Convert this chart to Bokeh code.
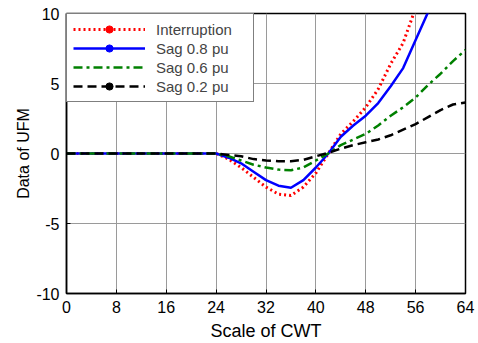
from bokeh.plotting import figure
from bokeh.models import ColumnDataSource, Legend, LegendItem, FixedTicker, Range1d
from bokeh.embed import file_html
from bokeh.resources import INLINE

x = [0, 2, 4, 6, 8, 10, 12, 14, 16, 18, 20, 22, 24, 26, 28, 30, 32, 34, 36, 38, 40,
     42, 44, 46, 48, 50, 52, 54, 56, 58, 60, 62, 64]
interruption = [0]*12 + [0, -0.4, -1.0, -1.7, -2.4, -2.9, -3.0, -2.4, -1.4,
                         0.0, 1.4, 2.3, 3.3, 4.6, 6.4, 7.9, 10.4, 12.8, 15.0, 17.0, 19.0]
sag08 = [0]*12 + [0, -0.3, -0.7, -1.3, -1.9, -2.3, -2.45, -1.9, -1.0,
                  0.0, 1.2, 2.0, 2.7, 3.6, 4.8, 6.1, 8.1, 10.1, 12.0, 14.0, 16.0]
sag06 = [0]*12 + [0, -0.2, -0.5, -0.8, -1.0, -1.15, -1.2, -1.0, -0.5,
                  0.0, 0.6, 1.0, 1.4, 2.0, 2.7, 3.3, 4.0, 4.9, 5.7, 6.6, 7.4]
sag02 = [0]*12 + [0, -0.1, -0.2, -0.4, -0.5, -0.55, -0.55, -0.45, -0.2,
                  0.05, 0.35, 0.6, 0.8, 1.0, 1.3, 1.7, 2.1, 2.6, 3.1, 3.5, 3.65]
labels = ["Interruption", "Sag 0.8 pu", "Sag 0.6 pu", "Sag 0.2 pu"]
x_ticks = [0, 8, 16, 24, 32, 40, 48, 56, 64]
y_ticks = [-10, -5, 0, 5, 10]
y_tick_labels = ["-10", "-5", "0", "5", "10"]

FONT = "Liberation Sans"

p = figure(width=478, height=343, output_backend="svg", toolbar_location=None,
           x_range=Range1d(0, 64), y_range=Range1d(-10, 10),
           min_border_left=66, min_border_right=13, min_border_top=13, min_border_bottom=50)
p.background_fill_color = "white"
p.border_fill_color = "white"
p.outline_line_color = "black"
p.outline_line_width = 1.5

for ax in (p.xaxis[0], p.yaxis[0]):
    ax.major_tick_in = 4
    ax.major_tick_out = 0
    ax.minor_tick_in = 0
    ax.minor_tick_out = 0
    ax.axis_line_color = "black"
    ax.axis_line_width = 1.5
    ax.major_label_text_font = FONT
    ax.major_label_text_font_size = "16px"
    ax.major_label_text_color = "black"
    ax.axis_label_text_font = FONT
    ax.axis_label_text_font_style = "normal"
    ax.axis_label_text_color = "black"

p.xaxis.ticker = FixedTicker(ticks=x_ticks)
p.yaxis.ticker = FixedTicker(ticks=y_ticks)
p.yaxis.major_label_overrides = dict(zip(y_ticks, y_tick_labels))
p.xaxis.axis_label = "Scale of CWT"
p.yaxis.axis_label = "Data of UFM"
p.xaxis.axis_label_text_font_size = "18px"
p.yaxis.axis_label_text_font_size = "16px"
p.xaxis.major_label_standoff = 7
p.yaxis.major_label_standoff = 7
p.xaxis.axis_label_standoff = 5
p.yaxis.axis_label_standoff = 1

p.xgrid.ticker = FixedTicker(ticks=x_ticks)
p.ygrid.ticker = FixedTicker(ticks=y_ticks)
p.grid.grid_line_color = "#9a9a9a"
p.grid.grid_line_width = 1

src = ColumnDataSource(dict(x=x, a=interruption, b=sag08, c=sag06, d=sag02))

r1 = p.line("x", "a", source=src, line_color="red", line_width=3, line_dash="2 3")
r2 = p.line("x", "b", source=src, line_color="blue", line_width=2.5)
r3 = p.line("x", "c", source=src, line_color="green", line_width=2.5, line_dash="9 4 3 4")
r4 = p.line("x", "d", source=src, line_color="black", line_width=2.5, line_dash="9 5")
m1 = p.scatter("x", "a", source=src, size=7, color="red", visible=False)
m2 = p.scatter("x", "b", source=src, size=7, color="blue", visible=False)
m4 = p.scatter("x", "d", source=src, size=7, color="black", visible=False)

legend = Legend(items=[
    LegendItem(label=labels[0], renderers=[r1, m1], index=0),
    LegendItem(label=labels[1], renderers=[r2, m2], index=0),
    LegendItem(label=labels[2], renderers=[r3], index=0),
    LegendItem(label=labels[3], renderers=[r4, m4], index=0),
], location="top_left")
legend.margin = 0
legend.padding = 6
legend.spacing = 1
legend.label_height = 18
legend.glyph_height = 18
legend.glyph_width = 72
legend.label_standoff = 11
legend.label_width = 91
legend.label_text_font = FONT
legend.label_text_font_size = "15px"
legend.border_line_color = "black"
legend.border_line_width = 1
legend.background_fill_alpha = 1
p.add_layout(legend)

open("out.html", "w").write(file_html(p, INLINE))
